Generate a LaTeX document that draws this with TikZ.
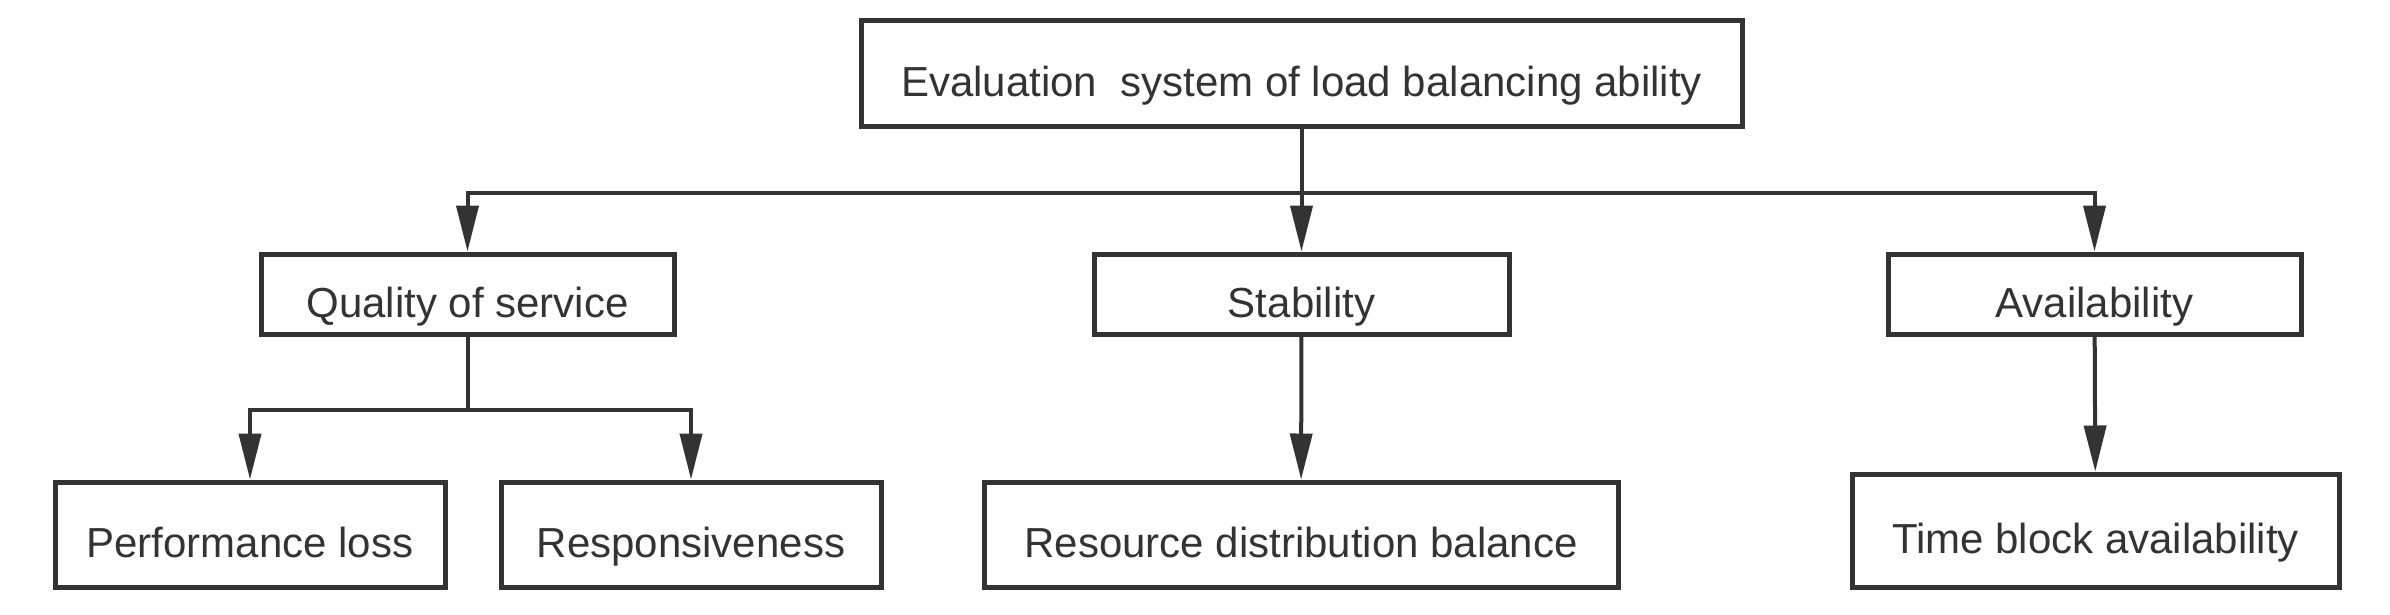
\documentclass[tikz,border=0pt]{standalone}
\usepackage{fontspec}
\setmainfont{Liberation Sans}
\usetikzlibrary{arrows.meta}
\definecolor{ink}{HTML}{333333}
\begin{document}
\begin{tikzpicture}[x=1pt,y=-1pt,
    box/.style={draw=ink,line width=5pt,text=ink,inner sep=0pt,
      text height=46pt,text depth=0pt,
      font=\fontsize{42}{48}\selectfont}]
      \useasboundingbox (0,0) rectangle (2390,614);
      \draw
        (1301.5,73) node[box,minimum width=881pt,minimum height=106pt] (eval){Evaluation\ \ system of load balancing ability}
        (467.5,294) node[box,minimum width=413pt,minimum height=80pt] (qos){Quality of service}
        (1301.5,294) node[box,minimum width=415pt,minimum height=80pt] (stab){Stability}
        (2094.5,294) node[box,minimum width=413pt,minimum height=80pt] (avail){Availability}
        (250,534.5) node[box,minimum width=390pt,minimum height=105pt] (perf){Performance loss}
        (691,534.5) node[box,minimum width=380pt,minimum height=105pt] (resp){Responsiveness}
        (1301,534.5) node[box,minimum width=634pt,minimum height=105pt] (res){Resource distribution balance}
        (2095.5,530.5) node[box,minimum width=487pt,minimum height=113pt] (time){Time block availability};
      \begin{scope}[-{Triangle[length=46pt,width=22pt]},line width=4pt,draw=ink]
        \draw (eval.south) -- ++(0,64) -| (qos);
        \draw (eval) to (stab);
        \draw (eval.south) -- ++(0,64) -| (avail);
        \draw (qos.south) -- ++(0,73) -| (perf);
        \draw (qos.south) -- ++(0,73) -| (resp);
        \draw (stab) to (res);
        \draw (avail) to (time);
      \end{scope}
    \end{tikzpicture}
\end{document}
